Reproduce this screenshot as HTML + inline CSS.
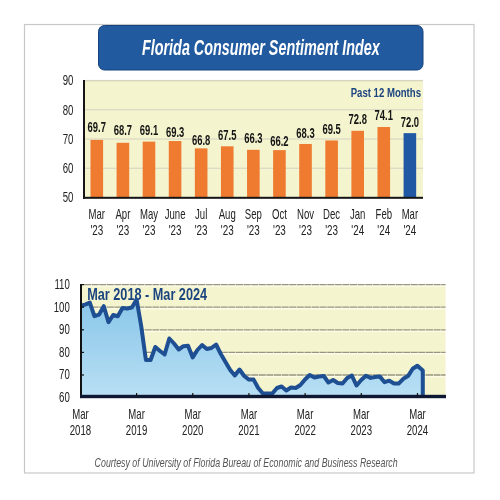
<!DOCTYPE html>
<html><head><meta charset="utf-8">
<style>
html,body{margin:0;padding:0;background:#fff;width:500px;height:500px;overflow:hidden}
svg{display:block;will-change:transform}
text{font-family:"Liberation Sans",sans-serif}
</style></head><body>
<svg width="500" height="500" viewBox="0 0 500 500">
<defs>
<linearGradient id="fillg" x1="0" y1="0" x2="0" y2="1">
<stop offset="0" stop-color="#89C6E9"/><stop offset="1" stop-color="#B8DFF4"/>
</linearGradient>
</defs>
<rect x="24.5" y="24.5" width="449.5" height="448.5" fill="#fff" stroke="#C8C8C8" stroke-width="1.2"/>
<rect x="98.5" y="25.5" width="324.5" height="44.5" rx="6" ry="6" fill="#215A9E" stroke="#16427F" stroke-width="1"/>
<text transform="translate(142.00,54.90) scale(0.659,1)" text-anchor="start" font-size="21.8" fill="#fff" font-weight="bold" font-style="italic">Florida Consumer Sentiment Index</text>
<rect x="85" y="80.3" width="338" height="117.2" fill="#F4F4CE"/>
<rect x="85" y="167.65" width="338" height="1.2" fill="#DAD7C4"/><rect x="85" y="138.40" width="338" height="1.2" fill="#DAD7C4"/><rect x="85" y="109.15" width="338" height="1.2" fill="#DAD7C4"/><rect x="85" y="79.90" width="338" height="1.2" fill="#DAD7C4"/>
<rect x="85" y="80" width="338" height="1.2" fill="#D8D4C0"/>
<rect x="90.50" y="139.88" width="12.6" height="57.62" fill="#EE7B30"/><rect x="116.59" y="142.80" width="12.6" height="54.70" fill="#EE7B30"/><rect x="142.68" y="141.63" width="12.6" height="55.87" fill="#EE7B30"/><rect x="168.77" y="141.05" width="12.6" height="56.45" fill="#EE7B30"/><rect x="194.86" y="148.36" width="12.6" height="49.14" fill="#EE7B30"/><rect x="220.95" y="146.31" width="12.6" height="51.19" fill="#EE7B30"/><rect x="247.04" y="149.82" width="12.6" height="47.68" fill="#EE7B30"/><rect x="273.13" y="150.12" width="12.6" height="47.38" fill="#EE7B30"/><rect x="299.22" y="143.97" width="12.6" height="53.53" fill="#EE7B30"/><rect x="325.31" y="140.46" width="12.6" height="57.04" fill="#EE7B30"/><rect x="351.40" y="130.81" width="12.6" height="66.69" fill="#EE7B30"/><rect x="377.49" y="127.01" width="12.6" height="70.49" fill="#EE7B30"/><rect x="403.58" y="133.15" width="12.6" height="64.35" fill="#2058A4"/>
<rect x="83" y="80" width="2" height="118.8" fill="#151515"/>
<rect x="83" y="196.8" width="340" height="2" fill="#151515"/>
<text transform="translate(421.00,96.80) scale(0.7,1)" text-anchor="end" font-size="13.7" fill="#1C4580" font-weight="bold" font-style="normal">Past 12 Months</text>
<text transform="translate(96.80,131.50) scale(0.675,1)" text-anchor="middle" font-size="14.0" fill="#151515" font-weight="bold" font-style="normal">69.7</text><text transform="translate(96.80,219.20) scale(0.675,1)" text-anchor="middle" font-size="14.2" fill="#222" font-weight="normal" font-style="normal">Mar</text><text transform="translate(96.80,235.00) scale(0.675,1)" text-anchor="middle" font-size="14.6" fill="#222" font-weight="normal" font-style="normal">'23</text><text transform="translate(122.89,134.50) scale(0.675,1)" text-anchor="middle" font-size="14.0" fill="#151515" font-weight="bold" font-style="normal">68.7</text><text transform="translate(122.89,219.20) scale(0.675,1)" text-anchor="middle" font-size="14.2" fill="#222" font-weight="normal" font-style="normal">Apr</text><text transform="translate(122.89,235.00) scale(0.675,1)" text-anchor="middle" font-size="14.6" fill="#222" font-weight="normal" font-style="normal">'23</text><text transform="translate(148.98,134.50) scale(0.675,1)" text-anchor="middle" font-size="14.0" fill="#151515" font-weight="bold" font-style="normal">69.1</text><text transform="translate(148.98,219.20) scale(0.675,1)" text-anchor="middle" font-size="14.2" fill="#222" font-weight="normal" font-style="normal">May</text><text transform="translate(148.98,235.00) scale(0.675,1)" text-anchor="middle" font-size="14.6" fill="#222" font-weight="normal" font-style="normal">'23</text><text transform="translate(175.07,137.40) scale(0.675,1)" text-anchor="middle" font-size="14.0" fill="#151515" font-weight="bold" font-style="normal">69.3</text><text transform="translate(175.07,219.20) scale(0.675,1)" text-anchor="middle" font-size="14.2" fill="#222" font-weight="normal" font-style="normal">June</text><text transform="translate(175.07,235.00) scale(0.675,1)" text-anchor="middle" font-size="14.6" fill="#222" font-weight="normal" font-style="normal">'23</text><text transform="translate(201.16,144.80) scale(0.675,1)" text-anchor="middle" font-size="14.0" fill="#151515" font-weight="bold" font-style="normal">66.8</text><text transform="translate(201.16,219.20) scale(0.675,1)" text-anchor="middle" font-size="14.2" fill="#222" font-weight="normal" font-style="normal">Jul</text><text transform="translate(201.16,235.00) scale(0.675,1)" text-anchor="middle" font-size="14.6" fill="#222" font-weight="normal" font-style="normal">'23</text><text transform="translate(227.25,139.50) scale(0.675,1)" text-anchor="middle" font-size="14.0" fill="#151515" font-weight="bold" font-style="normal">67.5</text><text transform="translate(227.25,219.20) scale(0.675,1)" text-anchor="middle" font-size="14.2" fill="#222" font-weight="normal" font-style="normal">Aug</text><text transform="translate(227.25,235.00) scale(0.675,1)" text-anchor="middle" font-size="14.6" fill="#222" font-weight="normal" font-style="normal">'23</text><text transform="translate(253.34,142.70) scale(0.675,1)" text-anchor="middle" font-size="14.0" fill="#151515" font-weight="bold" font-style="normal">66.3</text><text transform="translate(253.34,219.20) scale(0.675,1)" text-anchor="middle" font-size="14.2" fill="#222" font-weight="normal" font-style="normal">Sep</text><text transform="translate(253.34,235.00) scale(0.675,1)" text-anchor="middle" font-size="14.6" fill="#222" font-weight="normal" font-style="normal">'23</text><text transform="translate(279.43,145.80) scale(0.675,1)" text-anchor="middle" font-size="14.0" fill="#151515" font-weight="bold" font-style="normal">66.2</text><text transform="translate(279.43,219.20) scale(0.675,1)" text-anchor="middle" font-size="14.2" fill="#222" font-weight="normal" font-style="normal">Oct</text><text transform="translate(279.43,235.00) scale(0.675,1)" text-anchor="middle" font-size="14.6" fill="#222" font-weight="normal" font-style="normal">'23</text><text transform="translate(305.52,138.20) scale(0.675,1)" text-anchor="middle" font-size="14.0" fill="#151515" font-weight="bold" font-style="normal">68.3</text><text transform="translate(305.52,219.20) scale(0.675,1)" text-anchor="middle" font-size="14.2" fill="#222" font-weight="normal" font-style="normal">Nov</text><text transform="translate(305.52,235.00) scale(0.675,1)" text-anchor="middle" font-size="14.6" fill="#222" font-weight="normal" font-style="normal">'23</text><text transform="translate(331.61,133.90) scale(0.675,1)" text-anchor="middle" font-size="14.0" fill="#151515" font-weight="bold" font-style="normal">69.5</text><text transform="translate(331.61,219.20) scale(0.675,1)" text-anchor="middle" font-size="14.2" fill="#222" font-weight="normal" font-style="normal">Dec</text><text transform="translate(331.61,235.00) scale(0.675,1)" text-anchor="middle" font-size="14.6" fill="#222" font-weight="normal" font-style="normal">'23</text><text transform="translate(357.70,124.20) scale(0.675,1)" text-anchor="middle" font-size="14.0" fill="#151515" font-weight="bold" font-style="normal">72.8</text><text transform="translate(357.70,219.20) scale(0.675,1)" text-anchor="middle" font-size="14.2" fill="#222" font-weight="normal" font-style="normal">Jan</text><text transform="translate(357.70,235.00) scale(0.675,1)" text-anchor="middle" font-size="14.6" fill="#222" font-weight="normal" font-style="normal">'24</text><text transform="translate(383.79,120.40) scale(0.675,1)" text-anchor="middle" font-size="14.0" fill="#151515" font-weight="bold" font-style="normal">74.1</text><text transform="translate(383.79,219.20) scale(0.675,1)" text-anchor="middle" font-size="14.2" fill="#222" font-weight="normal" font-style="normal">Feb</text><text transform="translate(383.79,235.00) scale(0.675,1)" text-anchor="middle" font-size="14.6" fill="#222" font-weight="normal" font-style="normal">'24</text><text transform="translate(409.88,127.00) scale(0.675,1)" text-anchor="middle" font-size="14.0" fill="#151515" font-weight="bold" font-style="normal">72.0</text><text transform="translate(409.88,219.20) scale(0.675,1)" text-anchor="middle" font-size="14.2" fill="#222" font-weight="normal" font-style="normal">Mar</text><text transform="translate(409.88,235.00) scale(0.675,1)" text-anchor="middle" font-size="14.6" fill="#222" font-weight="normal" font-style="normal">'24</text>
<text transform="translate(73.50,202.30) scale(0.7,1)" text-anchor="end" font-size="13.8" fill="#222" font-weight="normal" font-style="normal">50</text><text transform="translate(73.50,173.05) scale(0.7,1)" text-anchor="end" font-size="13.8" fill="#222" font-weight="normal" font-style="normal">60</text><text transform="translate(73.50,143.80) scale(0.7,1)" text-anchor="end" font-size="13.8" fill="#222" font-weight="normal" font-style="normal">70</text><text transform="translate(73.50,114.55) scale(0.7,1)" text-anchor="end" font-size="13.8" fill="#222" font-weight="normal" font-style="normal">80</text><text transform="translate(73.50,85.30) scale(0.7,1)" text-anchor="end" font-size="13.8" fill="#222" font-weight="normal" font-style="normal">90</text>
<rect x="82" y="284.6" width="363.5" height="112" fill="#F4F4CE"/>
<rect x="84" y="375.60" width="361.5" height="1.8" fill="#FBFBE6"/><line x1="84" y1="375.00" x2="445.5" y2="375.00" stroke="#989682" stroke-width="1.3" stroke-dasharray="7,0.6"/><rect x="84" y="353.00" width="361.5" height="1.8" fill="#FBFBE6"/><line x1="84" y1="352.40" x2="445.5" y2="352.40" stroke="#989682" stroke-width="1.3" stroke-dasharray="7,0.6"/><rect x="84" y="330.40" width="361.5" height="1.8" fill="#FBFBE6"/><line x1="84" y1="329.80" x2="445.5" y2="329.80" stroke="#989682" stroke-width="1.3" stroke-dasharray="7,0.6"/><rect x="84" y="307.80" width="361.5" height="1.8" fill="#FBFBE6"/><line x1="84" y1="307.20" x2="445.5" y2="307.20" stroke="#989682" stroke-width="1.3" stroke-dasharray="7,0.6"/><rect x="84" y="285.20" width="361.5" height="1.8" fill="#FBFBE6"/><line x1="84" y1="284.60" x2="445.5" y2="284.60" stroke="#989682" stroke-width="1.3" stroke-dasharray="7,0.6"/>
<text transform="translate(87.20,299.80) scale(0.734,1)" text-anchor="start" font-size="17.3" fill="#1C4580" font-weight="bold" font-style="normal">Mar 2018 - Mar 2024</text>
<path d="M80.4,396 L80.4,305.8 L85.1,304.6 L89.8,302.6 L94.4,316.2 L99.1,314.6 L103.8,306.2 L108.5,322.2 L113.2,315.0 L117.8,316.2 L122.5,308.0 L127.2,308.5 L131.9,307.5 L136.6,299.5 L141.2,326.0 L145.9,360.0 L150.6,360.0 L155.3,347.0 L160.0,351.0 L164.6,354.5 L169.3,338.5 L174.0,343.5 L178.7,349.5 L183.4,346.2 L188.0,345.8 L192.7,357.5 L197.4,350.0 L202.1,345.0 L206.8,349.0 L211.4,348.0 L216.1,344.5 L220.8,354.0 L225.5,362.0 L230.2,370.0 L234.8,375.5 L239.5,369.5 L244.2,376.0 L248.9,379.6 L253.6,379.6 L258.2,388.0 L262.9,393.5 L267.6,393.5 L272.3,393.5 L277.0,388.0 L281.6,386.5 L286.3,390.5 L291.0,387.5 L295.7,388.0 L300.4,385.0 L305.0,379.5 L309.7,375.0 L314.4,377.5 L319.1,376.5 L323.8,376.0 L328.4,382.5 L333.1,380.0 L337.8,383.0 L342.5,383.5 L347.2,378.0 L351.8,375.5 L356.5,385.5 L361.2,380.0 L365.9,375.7 L370.6,377.9 L375.2,377.0 L379.9,376.6 L384.6,382.2 L389.3,380.7 L394.0,383.4 L398.6,383.6 L403.3,378.8 L408.0,376.1 L412.7,368.7 L417.4,365.7 L422.8,370.5 L422.8,396 Z" fill="url(#fillg)"/>
<polyline points="80.4,305.8 85.1,304.6 89.8,302.6 94.4,316.2 99.1,314.6 103.8,306.2 108.5,322.2 113.2,315.0 117.8,316.2 122.5,308.0 127.2,308.5 131.9,307.5 136.6,299.5 141.2,326.0 145.9,360.0 150.6,360.0 155.3,347.0 160.0,351.0 164.6,354.5 169.3,338.5 174.0,343.5 178.7,349.5 183.4,346.2 188.0,345.8 192.7,357.5 197.4,350.0 202.1,345.0 206.8,349.0 211.4,348.0 216.1,344.5 220.8,354.0 225.5,362.0 230.2,370.0 234.8,375.5 239.5,369.5 244.2,376.0 248.9,379.6 253.6,379.6 258.2,388.0 262.9,393.5 267.6,393.5 272.3,393.5 277.0,388.0 281.6,386.5 286.3,390.5 291.0,387.5 295.7,388.0 300.4,385.0 305.0,379.5 309.7,375.0 314.4,377.5 319.1,376.5 323.8,376.0 328.4,382.5 333.1,380.0 337.8,383.0 342.5,383.5 347.2,378.0 351.8,375.5 356.5,385.5 361.2,380.0 365.9,375.7 370.6,377.9 375.2,377.0 379.9,376.6 384.6,382.2 389.3,380.7 394.0,383.4 398.6,383.6 403.3,378.8 408.0,376.1 412.7,368.7 417.4,365.7 422.8,370.5 422.8,397" fill="none" stroke="#1E4F93" stroke-width="4.0" stroke-linejoin="round"/>
<rect x="80" y="284" width="2" height="114" fill="#111"/>
<rect x="80" y="394.8" width="366" height="3.4" fill="#0E1832"/>
<line x1="81" y1="375.00" x2="84" y2="375.00" stroke="#111" stroke-width="1.2"/><line x1="81" y1="352.40" x2="84" y2="352.40" stroke="#111" stroke-width="1.2"/><line x1="81" y1="329.80" x2="84" y2="329.80" stroke="#111" stroke-width="1.2"/><line x1="81" y1="307.20" x2="84" y2="307.20" stroke="#111" stroke-width="1.2"/><line x1="81" y1="284.60" x2="84" y2="284.60" stroke="#111" stroke-width="1.2"/>
<text transform="translate(80.40,418.80) scale(0.675,1)" text-anchor="middle" font-size="14.2" fill="#222" font-weight="normal" font-style="normal">Mar</text><text transform="translate(80.40,434.80) scale(0.68,1)" text-anchor="middle" font-size="14.2" fill="#222" font-weight="normal" font-style="normal">2018</text><line x1="136.58" y1="393" x2="136.58" y2="396" stroke="#111" stroke-width="1.2"/><text transform="translate(136.58,418.80) scale(0.675,1)" text-anchor="middle" font-size="14.2" fill="#222" font-weight="normal" font-style="normal">Mar</text><text transform="translate(136.58,434.80) scale(0.68,1)" text-anchor="middle" font-size="14.2" fill="#222" font-weight="normal" font-style="normal">2019</text><line x1="192.76" y1="393" x2="192.76" y2="396" stroke="#111" stroke-width="1.2"/><text transform="translate(192.76,418.80) scale(0.675,1)" text-anchor="middle" font-size="14.2" fill="#222" font-weight="normal" font-style="normal">Mar</text><text transform="translate(192.76,434.80) scale(0.68,1)" text-anchor="middle" font-size="14.2" fill="#222" font-weight="normal" font-style="normal">2020</text><line x1="248.94" y1="393" x2="248.94" y2="396" stroke="#111" stroke-width="1.2"/><text transform="translate(248.94,418.80) scale(0.675,1)" text-anchor="middle" font-size="14.2" fill="#222" font-weight="normal" font-style="normal">Mar</text><text transform="translate(248.94,434.80) scale(0.68,1)" text-anchor="middle" font-size="14.2" fill="#222" font-weight="normal" font-style="normal">2021</text><line x1="305.12" y1="393" x2="305.12" y2="396" stroke="#111" stroke-width="1.2"/><text transform="translate(305.12,418.80) scale(0.675,1)" text-anchor="middle" font-size="14.2" fill="#222" font-weight="normal" font-style="normal">Mar</text><text transform="translate(305.12,434.80) scale(0.68,1)" text-anchor="middle" font-size="14.2" fill="#222" font-weight="normal" font-style="normal">2022</text><line x1="361.30" y1="393" x2="361.30" y2="396" stroke="#111" stroke-width="1.2"/><text transform="translate(361.30,418.80) scale(0.675,1)" text-anchor="middle" font-size="14.2" fill="#222" font-weight="normal" font-style="normal">Mar</text><text transform="translate(361.30,434.80) scale(0.68,1)" text-anchor="middle" font-size="14.2" fill="#222" font-weight="normal" font-style="normal">2023</text><line x1="417.48" y1="393" x2="417.48" y2="396" stroke="#111" stroke-width="1.2"/><text transform="translate(417.48,418.80) scale(0.675,1)" text-anchor="middle" font-size="14.2" fill="#222" font-weight="normal" font-style="normal">Mar</text><text transform="translate(417.48,434.80) scale(0.68,1)" text-anchor="middle" font-size="14.2" fill="#222" font-weight="normal" font-style="normal">2024</text>
<text transform="translate(69.80,402.00) scale(0.7,1)" text-anchor="end" font-size="13.8" fill="#222" font-weight="normal" font-style="normal">60</text><text transform="translate(69.80,379.40) scale(0.7,1)" text-anchor="end" font-size="13.8" fill="#222" font-weight="normal" font-style="normal">70</text><text transform="translate(69.80,356.80) scale(0.7,1)" text-anchor="end" font-size="13.8" fill="#222" font-weight="normal" font-style="normal">80</text><text transform="translate(69.80,334.20) scale(0.7,1)" text-anchor="end" font-size="13.8" fill="#222" font-weight="normal" font-style="normal">90</text><text transform="translate(69.80,311.60) scale(0.7,1)" text-anchor="end" font-size="13.8" fill="#222" font-weight="normal" font-style="normal">100</text><text transform="translate(69.80,289.00) scale(0.7,1)" text-anchor="end" font-size="13.8" fill="#222" font-weight="normal" font-style="normal">110</text>
<text transform="translate(94.60,467.20) scale(0.69,1)" text-anchor="start" font-size="12.8" fill="#555" font-weight="normal" font-style="italic">Courtesy of University of Florida Bureau of Economic and Business Research</text>
</svg>
</body></html>
